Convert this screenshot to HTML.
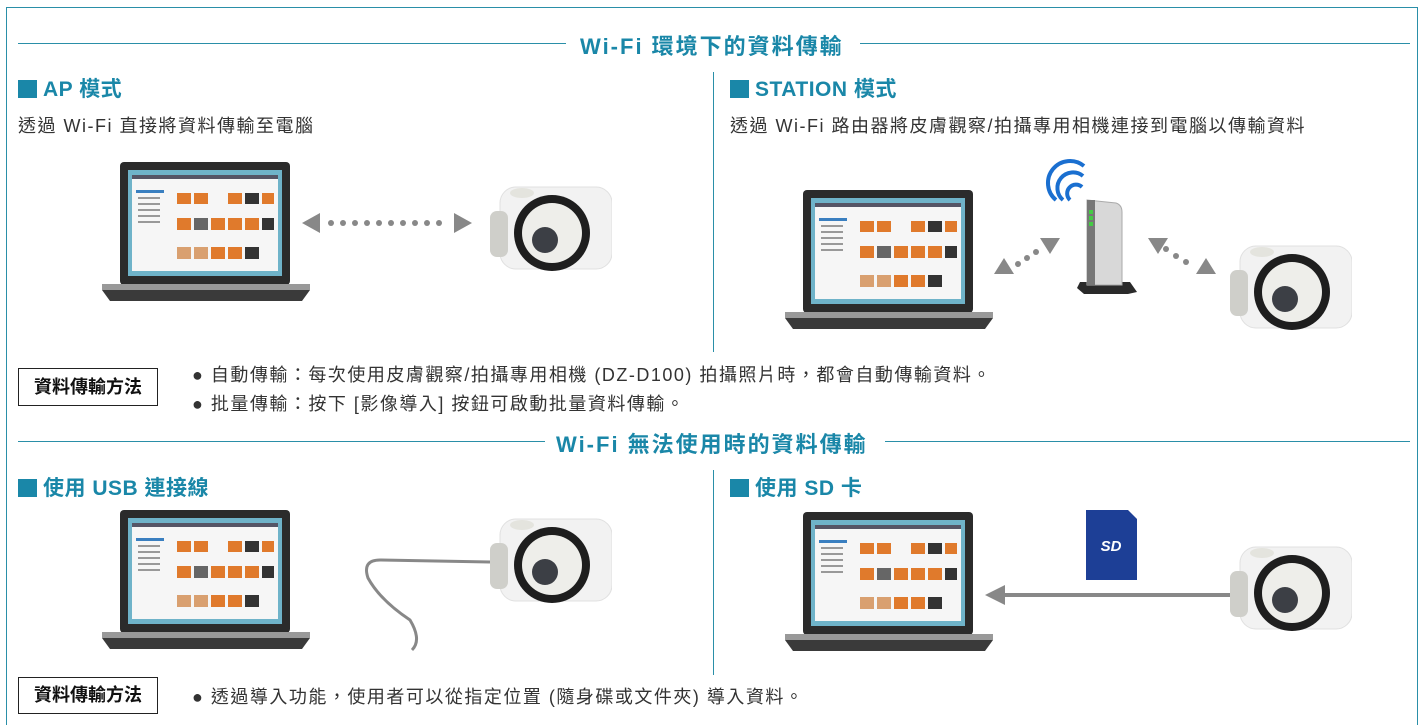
<!DOCTYPE html>
<html><head><meta charset="utf-8"><style>
body{margin:0;width:1427px;height:727px;background:#fff;position:relative;overflow:hidden;font-family:"Liberation Sans","Noto Sans CJK TC",sans-serif;color:#333}
.a{position:absolute}
.frame{left:6px;top:7px;width:1412px;height:718px;border:1px solid #2a8fa8;border-bottom:none;box-sizing:border-box}
.hl{height:1px;background:#2a8fa8}
.vl{width:1px;background:#2a8fa8}
.title{color:#1a87a8;font-weight:bold;font-size:22px;letter-spacing:2px;white-space:nowrap}
.h{color:#1a87a8;font-weight:bold;font-size:21px;letter-spacing:0.5px;white-space:nowrap}
.h i{display:inline-block;width:19px;height:18px;background:#1a87a8;margin-right:6px;vertical-align:-2px}
.d{font-size:18px;letter-spacing:1.5px;white-space:nowrap}
.box{border:1px solid #222;font-weight:bold;font-size:18px;color:#111;text-align:center;box-sizing:border-box}
.bl{font-size:18px;letter-spacing:1.5px;white-space:nowrap}
</style></head><body>
<svg width="0" height="0" style="position:absolute">
<defs>
<symbol id="lap" viewBox="0 0 208 140">
<rect x="18" y="0" width="170" height="123" rx="4" fill="#2b2b2b"/>
<rect x="26" y="8" width="154" height="106" fill="#6fb3c9"/>
<rect x="30" y="13" width="146" height="96" fill="#f6f6f6"/>
<rect x="30" y="13" width="146" height="4" fill="#556"/>
<rect x="34" y="28" width="28" height="3" fill="#3a7fc0"/>
<g fill="#999"><rect x="36" y="35" width="22" height="2"/><rect x="36" y="41" width="22" height="2"/><rect x="36" y="47" width="22" height="2"/><rect x="36" y="53" width="22" height="2"/><rect x="36" y="59" width="22" height="2"/></g>
<g fill="#e07a2c"><rect x="75" y="31" width="14" height="11"/><rect x="92" y="31" width="14" height="11"/><rect x="126" y="31" width="14" height="11"/><rect x="160" y="31" width="12" height="11"/>
<rect x="75" y="56" width="14" height="12"/><rect x="109" y="56" width="14" height="12"/><rect x="126" y="56" width="14" height="12"/><rect x="143" y="56" width="14" height="12"/>
<rect x="75" y="85" width="14" height="12" fill="#d9a070"/><rect x="92" y="85" width="14" height="12" fill="#d9a070"/><rect x="109" y="85" width="14" height="12"/><rect x="126" y="85" width="14" height="12"/></g>
<g fill="#333"><rect x="143" y="31" width="14" height="11"/><rect x="92" y="56" width="14" height="12" fill="#666"/><rect x="160" y="56" width="12" height="12"/><rect x="143" y="85" width="14" height="12"/></g>
<rect x="0" y="122" width="208" height="6" fill="#999"/>
<polygon points="0,128 208,128 200,139 8,139" fill="#3a3a3a"/>
</symbol>
<symbol id="cam" viewBox="0 0 122 90">
<rect x="10" y="4" width="112" height="82" rx="16" fill="#f2f2f2" stroke="#e0e0e0"/>
<ellipse cx="32" cy="10" rx="12" ry="5" fill="#e4e4de"/>
<circle cx="62" cy="50" r="38" fill="#1e1e1e"/>
<circle cx="62" cy="50" r="30" fill="#eeeeea"/>
<circle cx="55" cy="57" r="13" fill="#3c3f45"/>
<rect x="0" y="28" width="18" height="46" rx="7" fill="#cfcfca"/>
</symbol>
</defs></svg>

<div class="a frame"></div>
<div class="a hl" style="left:18px;top:43px;width:548px"></div>
<div class="a hl" style="left:860px;top:43px;width:550px"></div>
<div class="a title" style="left:580px;top:29px">Wi-Fi 環境下的資料傳輸</div>
<div class="a vl" style="left:713px;top:72px;height:280px"></div>

<div class="a h" style="left:18px;top:73px"><i></i>AP 模式</div>
<div class="a d" style="left:18px;top:112px">透過 Wi-Fi 直接將資料傳輸至電腦</div>
<div class="a h" style="left:730px;top:73px"><i></i>STATION 模式</div>
<div class="a d" style="left:730px;top:112px">透過 Wi-Fi 路由器將皮膚觀察/拍攝專用相機連接到電腦以傳輸資料</div>

<svg class="a" style="left:102px;top:162px" width="208" height="140"><use href="#lap"/></svg>
<svg class="a" style="left:785px;top:190px" width="208" height="140"><use href="#lap"/></svg>
<svg class="a" style="left:490px;top:183px" width="122" height="90"><use href="#cam"/></svg>
<svg class="a" style="left:1230px;top:242px" width="122" height="90"><use href="#cam"/></svg>

<svg class="a" style="left:0;top:0" width="1427" height="727">
<polygon points="302,223 320,213 320,233" fill="#888"/>
<polygon points="472,223 454,213 454,233" fill="#888"/>
<g fill="#888"><circle cx="331" cy="223" r="3"/><circle cx="343" cy="223" r="3"/><circle cx="355" cy="223" r="3"/><circle cx="367" cy="223" r="3"/><circle cx="379" cy="223" r="3"/><circle cx="391" cy="223" r="3"/><circle cx="403" cy="223" r="3"/><circle cx="415" cy="223" r="3"/><circle cx="427" cy="223" r="3"/><circle cx="439" cy="223" r="3"/></g>
<polygon points="994,274 1014,274 1004,258" fill="#888"/>
<polygon points="1040,238 1060,238 1050,254" fill="#888"/>
<g fill="#888"><circle cx="1018" cy="264" r="3"/><circle cx="1027" cy="258" r="3"/><circle cx="1036" cy="252" r="3"/>
<circle cx="1166" cy="249" r="3"/><circle cx="1176" cy="256" r="3"/><circle cx="1186" cy="262" r="3"/></g>
<polygon points="1148,238 1168,238 1158,254" fill="#888"/>
<polygon points="1196,274 1216,274 1206,258" fill="#888"/>
<path d="M1056,200 a22,22 0 0 1 28,-34" stroke="#1a6fd0" stroke-width="4" fill="none"/>
<path d="M1063,200 a15,15 0 0 1 20,-24" stroke="#1a6fd0" stroke-width="4" fill="none"/>
<path d="M1070,200 a8,8 0 0 1 12,-13" stroke="#1a6fd0" stroke-width="4" fill="none"/>
<polygon points="1080,282 1130,282 1137,292 1128,294 1084,294 1077,288" fill="#2a2a2a"/>
<path d="M1087,200 L1116,203 Q1122,205 1122,212 L1122,285 L1087,285 Z" fill="#d8d8d8" stroke="#aaa"/>
<rect x="1087" y="200" width="8" height="85" fill="#777"/>
<g fill="#4c4"><rect x="1089" y="210" width="4" height="4"/><rect x="1089" y="216" width="4" height="4"/><rect x="1089" y="222" width="4" height="4"/></g>
<path d="M490,562 L380,560 Q362,560 368,578 Q380,600 410,620 Q422,640 412,650" stroke="#888" stroke-width="3" fill="none"/>
<polygon points="985,595 1005,585 1005,605" fill="#888"/>
<rect x="1003" y="593" width="232" height="4" fill="#888"/>
<path d="M1086,510 L1128,510 L1137,519 L1137,580 L1086,580 Z" fill="#1d3f96"/>
<text x="1111" y="551" font-family="Liberation Sans" font-style="italic" font-weight="bold" font-size="15" fill="#fff" text-anchor="middle">SD</text>
</svg>

<div class="a box" style="left:18px;top:368px;width:140px;height:38px;line-height:36px">資料傳輸方法</div>
<div class="a bl" style="left:192px;top:361px">● 自動傳輸：每次使用皮膚觀察/拍攝專用相機 (DZ-D100) 拍攝照片時，都會自動傳輸資料。</div>
<div class="a bl" style="left:192px;top:390px">● 批量傳輸：按下 [影像導入] 按鈕可啟動批量資料傳輸。</div>

<div class="a hl" style="left:18px;top:441px;width:527px"></div>
<div class="a hl" style="left:885px;top:441px;width:525px"></div>
<div class="a title" style="left:556px;top:427px">Wi-Fi 無法使用時的資料傳輸</div>
<div class="a vl" style="left:713px;top:470px;height:205px"></div>

<div class="a h" style="left:18px;top:472px"><i></i>使用 USB 連接線</div>
<div class="a h" style="left:730px;top:472px"><i></i>使用 SD 卡</div>

<svg class="a" style="left:102px;top:510px" width="208" height="140"><use href="#lap"/></svg>
<svg class="a" style="left:785px;top:512px" width="208" height="140"><use href="#lap"/></svg>
<svg class="a" style="left:490px;top:515px" width="122" height="90"><use href="#cam"/></svg>
<svg class="a" style="left:1230px;top:543px" width="122" height="90"><use href="#cam"/></svg>

<div class="a box" style="left:18px;top:677px;width:140px;height:37px;line-height:35px">資料傳輸方法</div>
<div class="a bl" style="left:192px;top:683px">● 透過導入功能，使用者可以從指定位置 (隨身碟或文件夾) 導入資料。</div>
</body></html>
